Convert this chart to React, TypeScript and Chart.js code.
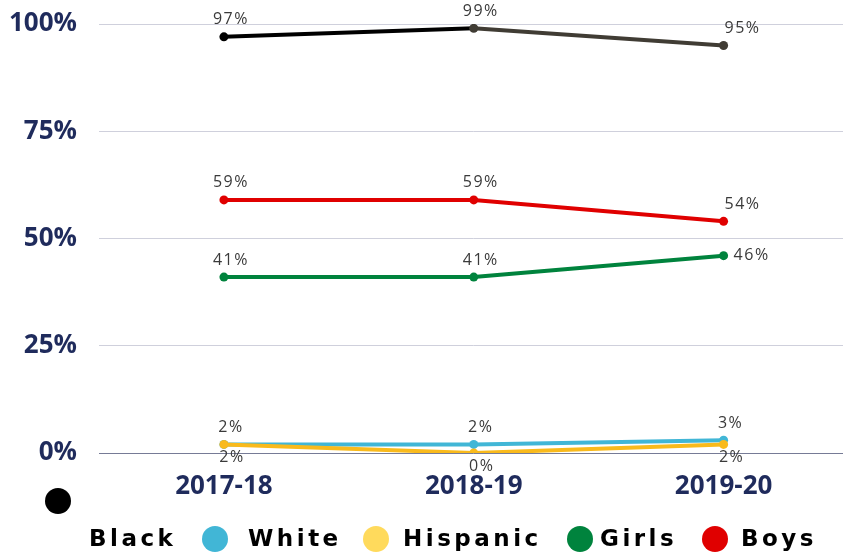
import React, { useEffect, useRef } from "react";
import { Chart, registerables } from "chart.js";

Chart.register(...registerables);

const categories = ["2017-18", "2018-19", "2019-20"];
const seriesNames = ["Black", "White", "Hispanic", "Girls", "Boys"];
const blackValues = [97, 99, 95];
const whiteValues = [2, 2, 3];
const hispanicValues = [2, 0, 2];
const girlsValues = [41, 41, 46];
const boysValues = [59, 59, 54];
const yTickStep = 25;
const yMin = 0;
const yMax = 100;

const lineColors = ["#000000", "#41b6d6", "#f9ba1c", "#00833d", "#e00000"];
const legendColors = ["#000000", "#41b6d6", "#ffda5c", "#00833d", "#e00000"];
const labelPositions = [
  ["top", "top", "topRight"],
  ["top", "top", "top"],
  ["bottom", "bottom", "bottom"],
  ["top", "top", "right"],
  ["top", "top", "topRight"],
];

const NAVY = "#1f2b5c";

const labelPlugin = {
  id: "pointLabels",
  afterDatasetsDraw(chart: any) {
    const ctx = chart.ctx;
    ctx.save();
    ctx.font = "400 16px 'Open Sans'";
    ctx.fillStyle = "#3a3a3a";
    ctx.textBaseline = "middle";
    (ctx as any).letterSpacing = "1.5px";
    chart.data.datasets.forEach((ds: any, di: number) => {
      const meta = chart.getDatasetMeta(di);
      meta.data.forEach((pt: any, i: number) => {
        const txt = ds.data[i] + "%";
        const pos = labelPositions[di][i];
        let x = pt.x;
        let y = pt.y;
        ctx.textAlign = "center";
        if (pos === "top") {
          x += 7;
          y -= 17;
        } else if (pos === "topRight") {
          x += 19;
          y -= 17;
        } else if (pos === "bottom") {
          x += 8;
          y += 13;
        } else if (pos === "right") {
          x += 10;
          ctx.textAlign = "left";
        }
        ctx.fillText(txt, x, y);
      });
    });
    ctx.restore();
  },
};

const legendPlugin = {
  id: "customLegend",
  afterDraw(chart: any) {
    const ctx = chart.ctx;
    ctx.save();
    const r = 13;
    // first row: the Black marker alone
    const circles = [
      [58, 501],
      [215, 539],
      [376, 539],
      [580, 539],
      [715, 539],
    ];
    const texts = [89, 248, 403, 600, 741];
    ctx.font = "700 23px 'DejaVu Sans'";
    (ctx as any).letterSpacing = "3.5px";
    ctx.textBaseline = "middle";
    ctx.textAlign = "left";
    seriesNames.forEach((name, i) => {
      ctx.fillStyle = legendColors[i];
      ctx.beginPath();
      ctx.arc(circles[i][0], circles[i][1], r, 0, Math.PI * 2);
      ctx.fill();
      ctx.fillStyle = "#000000";
      ctx.fillText(name, texts[i], 540);
    });
    ctx.restore();
  },
};

export default function App() {
  const ref = useRef<HTMLCanvasElement | null>(null);
  useEffect(() => {
    if (!ref.current) return;
    const values = [blackValues, whiteValues, hispanicValues, girlsValues, boysValues];
    const chart = new Chart(ref.current, {
      type: "line",
      data: {
        labels: categories,
        datasets: seriesNames.map((name, i) => ({
          label: name,
          data: values[i],
          borderColor: lineColors[i],
          backgroundColor: lineColors[i],
          pointBackgroundColor:
            i === 0 ? ["#000000", "#403c34", "#403c34"] : lineColors[i],
          pointBorderColor:
            i === 0 ? ["#000000", "#403c34", "#403c34"] : lineColors[i],
          pointRadius: 4.5,
          pointBorderWidth: 0,
          borderWidth: 4,
          tension: 0,
          order: i === 2 ? 0 : 1,
          segment:
            i === 0
              ? { borderColor: (c: any) => (c.p0DataIndex === 1 ? "#403c34" : "#000000") }
              : undefined,
        })),
      },
      options: {
        animation: false,
        responsive: false,
        devicePixelRatio: 1,
        layout: { padding: { top: 24, right: 0, left: 0, bottom: 0 } },
        plugins: {
          legend: { display: false },
          tooltip: { enabled: false },
        },
        scales: {
          x: {
            offset: true,
            grid: { display: false, drawTicks: false },
            border: { display: false },
            ticks: {
              color: NAVY,
              font: { family: "'Open Sans'", size: 26, weight: "bold" },
              padding: 18,
            },
            afterFit(scale: any) {
              scale.height = 99;
              scale.paddingLeft = 0;
              scale.paddingRight = 0;
            },
          },
          y: {
            min: yMin,
            max: yMax,
            grid: {
              drawTicks: false,
              color: (c: any) => (c.tick && c.tick.value === 0 ? "#767b96" : "#cfd0dc"),
              lineWidth: 1,
            },
            border: { display: false },
            ticks: {
              stepSize: yTickStep,
              color: NAVY,
              font: { family: "'Open Sans'", size: 26, weight: "bold" },
              padding: 22,
              callback: (v: any) => v + "%",
            },
            afterFit(scale: any) {
              scale.width = 99;
              scale.paddingTop = 0;
              scale.paddingBottom = 0;
            },
          },
        },
      } as any,
      plugins: [labelPlugin, legendPlugin],
    });
    return () => chart.destroy();
  }, []);
  return (
    <div style={{ position: "absolute", left: 0, top: 0, width: 843, height: 552, overflow: "hidden", background: "#fff" }}>
      <canvas ref={ref} width={853} height={552} style={{ width: 853, height: 552, display: "block" }} />
    </div>
  );
}
